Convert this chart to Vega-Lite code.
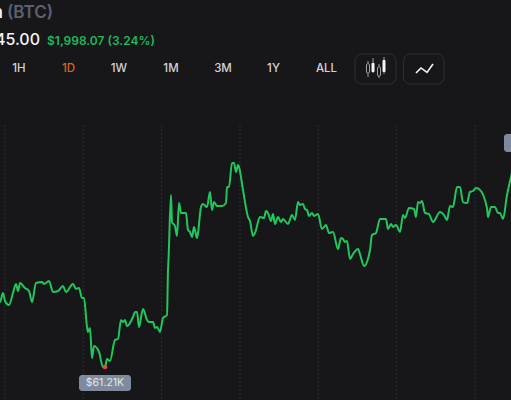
{"$schema":"https://vega.github.io/schema/vega-lite/v6.json","width":511,"height":400,"padding":0,"autosize":{"type":"none"},"background":"#17171a","config":{"view":{"stroke":null},"font":"Inter"},
"datasets":{
"price":[{"t":-2,"p":62022},{"t":0,"p":62022},{"t":3,"p":62135},{"t":5,"p":62035},{"t":9,"p":61985},{"t":13,"p":62135},{"t":16,"p":62248},{"t":18,"p":62160},{"t":20,"p":62260},{"t":25,"p":62198},{"t":29,"p":62160},{"t":32,"p":62022},{"t":36,"p":62260},{"t":42,"p":62272},{"t":44,"p":62248},{"t":49,"p":62285},{"t":53,"p":62148},{"t":58,"p":62160},{"t":63,"p":62222},{"t":66,"p":62148},{"t":73,"p":62248},{"t":76,"p":62185},{"t":79,"p":62198},{"t":82,"p":62072},{"t":84,"p":62072},{"t":87,"p":61710},{"t":88,"p":61648},{"t":90,"p":61698},{"t":92,"p":61322},{"t":94,"p":61472},{"t":99,"p":61398},{"t":103,"p":61210},{"t":105,"p":61210},{"t":107,"p":61310},{"t":110,"p":61285},{"t":115,"p":61548},{"t":118,"p":61560},{"t":121,"p":61798},{"t":123,"p":61772},{"t":125,"p":61798},{"t":127,"p":61722},{"t":133,"p":61835},{"t":135,"p":61898},{"t":137,"p":61898},{"t":139,"p":61710},{"t":143,"p":61935},{"t":147,"p":61798},{"t":149,"p":61772},{"t":153,"p":61772},{"t":155,"p":61698},{"t":157,"p":61710},{"t":160,"p":61648},{"t":163,"p":61822},{"t":167,"p":61860},{"t":168,"p":62422},{"t":168.5,"p":62548},{"t":171,"p":63360},{"t":172,"p":63022},{"t":175,"p":62972},{"t":177,"p":62848},{"t":179,"p":63260},{"t":181,"p":63135},{"t":186,"p":63135},{"t":188,"p":62922},{"t":190,"p":62898},{"t":192,"p":62835},{"t":194,"p":62960},{"t":197,"p":62822},{"t":198,"p":62885},{"t":201,"p":63210},{"t":203,"p":63248},{"t":207,"p":63210},{"t":210,"p":63398},{"t":212,"p":63172},{"t":214,"p":63272},{"t":217,"p":63222},{"t":222,"p":63222},{"t":226,"p":63260},{"t":227,"p":63460},{"t":229,"p":63460},{"t":232,"p":63760},{"t":234,"p":63760},{"t":236,"p":63648},{"t":238,"p":63735},{"t":239,"p":63710},{"t":243,"p":63422},{"t":248,"p":63085},{"t":250,"p":63035},{"t":253,"p":62848},{"t":255,"p":62885},{"t":260,"p":63085},{"t":264,"p":63072},{"t":266,"p":63160},{"t":268,"p":63135},{"t":271,"p":63035},{"t":273,"p":63122},{"t":275,"p":62998},{"t":278,"p":63085},{"t":281,"p":63022},{"t":283,"p":63060},{"t":288,"p":62998},{"t":292,"p":63110},{"t":295,"p":63048},{"t":298,"p":63272},{"t":300,"p":63235},{"t":303,"p":63248},{"t":305,"p":63185},{"t":307,"p":63172},{"t":309,"p":63098},{"t":312,"p":63135},{"t":314,"p":63098},{"t":318,"p":63122},{"t":322,"p":62935},{"t":326,"p":62985},{"t":329,"p":62885},{"t":333,"p":62898},{"t":338,"p":62685},{"t":341,"p":62822},{"t":343,"p":62810},{"t":345,"p":62772},{"t":347,"p":62785},{"t":350,"p":62560},{"t":353,"p":62622},{"t":358,"p":62685},{"t":360,"p":62622},{"t":364,"p":62472},{"t":370,"p":62672},{"t":372,"p":62860},{"t":376,"p":62885},{"t":380,"p":63060},{"t":386,"p":63060},{"t":388,"p":62935},{"t":391,"p":62998},{"t":393,"p":62960},{"t":396,"p":62985},{"t":400,"p":62898},{"t":403,"p":63110},{"t":405,"p":63072},{"t":409,"p":63198},{"t":414,"p":63185},{"t":416,"p":63085},{"t":418,"p":63272},{"t":420,"p":63260},{"t":422,"p":63285},{"t":425,"p":63135},{"t":429,"p":63122},{"t":433,"p":63022},{"t":440,"p":63148},{"t":444,"p":63110},{"t":447,"p":63048},{"t":450,"p":63222},{"t":453,"p":63210},{"t":457,"p":63460},{"t":460,"p":63460},{"t":463,"p":63272},{"t":467,"p":63260},{"t":470,"p":63398},{"t":473,"p":63410},{"t":476,"p":63448},{"t":479,"p":63435},{"t":487,"p":63198},{"t":488,"p":63085},{"t":491,"p":63210},{"t":495,"p":63210},{"t":498,"p":63135},{"t":500,"p":63135},{"t":503,"p":63060},{"t":507,"p":63360},{"t":511,"p":63585},{"t":513,"p":63700}],
"grid":[{"t":5,"top":64235,"bot":60797.5},{"t":83.3,"top":64235,"bot":60797.5},{"t":161.6,"top":64235,"bot":60797.5},{"t":240,"top":64235,"bot":60797.5},{"t":318.3,"top":64235,"bot":60797.5},{"t":396.6,"top":64235,"bot":60797.5},{"t":475,"top":64235,"bot":60797.5}],
"ranges":[{"label":"1H","t":19,"p":64935,"c":"#d4d4d8"},{"label":"1D","t":68.5,"p":64935,"c":"#d9661f"},{"label":"1W","t":119,"p":64935,"c":"#d4d4d8"},{"label":"1M","t":171,"p":64935,"c":"#d4d4d8"},{"label":"3M","t":223,"p":64935,"c":"#d4d4d8"},{"label":"1Y","t":273.5,"p":64935,"c":"#d4d4d8"},{"label":"ALL","t":326.5,"p":64935,"c":"#d4d4d8"}],
"candles":[{"t":366.5,"t2":369.5,"a":64885,"b":65000},{"t":377.5,"t2":380.5,"a":64847,"b":64960}],
"candlesF":[{"t":371.5,"t2":374.5,"a":64897,"b":65010},{"t":382.5,"t2":385.5,"a":64897,"b":65047}],
"wicks":[{"t":368,"a":64835,"b":65035},{"t":373,"a":64885,"b":65072},{"t":379,"a":64822,"b":64997},{"t":384,"a":64872,"b":65085}],
"buttons":[{"t":355,"t2":396,"a":64748,"b":65122},{"t":403.5,"t2":444,"a":64748,"b":65122}],
"spark":[{"t":416,"p":64885},{"t":421,"p":64948},{"t":427,"p":64892},{"t":433,"p":64998}],
"tags":[{"t":79,"t2":131,"a":60910,"b":61110},{"t":504,"t2":525,"a":63897,"b":64122}]
},
"encoding":{},
"layer":[
{"data":{"name":"grid"},"mark":{"type":"rule","stroke":"#2c2e36","strokeWidth":1,"strokeDash":[2,2]},"encoding":{"x":{"field":"t","type":"quantitative","scale":{"domain":[0,511],"nice":false,"zero":false},"axis":null},"y":{"field":"top","type":"quantitative","scale":{"domain":[60797.5,65797.5],"nice":false,"zero":false},"axis":null},"y2":{"field":"bot"}}},
{"data":{"name":"price"},"mark":{"type":"line","stroke":"#20c75c","strokeWidth":2,"interpolate":"monotone","clip":true},"encoding":{"x":{"field":"t","type":"quantitative","scale":{"domain":[0,511],"nice":false,"zero":false},"axis":null},"y":{"field":"p","type":"quantitative","scale":{"domain":[60797.5,65797.5],"nice":false,"zero":false},"axis":null}}},
{"data":{"values":[{"t":105,"p":61210}]},"mark":{"type":"point","filled":true,"fill":"#ef4444","opacity":1,"size":22},"encoding":{"x":{"field":"t","type":"quantitative","scale":{"domain":[0,511],"nice":false,"zero":false},"axis":null},"y":{"field":"p","type":"quantitative","scale":{"domain":[60797.5,65797.5],"nice":false,"zero":false},"axis":null}}},
{"data":{"name":"tags"},"mark":{"type":"rect","fill":"#7f8a9c","cornerRadius":3,"clip":true},"encoding":{"x":{"field":"t","type":"quantitative","scale":{"domain":[0,511],"nice":false,"zero":false},"axis":null},"x2":{"field":"t2"},"y":{"field":"a","type":"quantitative","scale":{"domain":[60797.5,65797.5],"nice":false,"zero":false},"axis":null},"y2":{"field":"b"}}},
{"data":{"values":[{"t":105,"p":61010,"label":"$61.21K"}]},"mark":{"type":"text","fontSize":10.5,"fill":"#e5e7eb","align":"center","baseline":"middle"},"encoding":{"x":{"field":"t","type":"quantitative","scale":{"domain":[0,511],"nice":false,"zero":false},"axis":null},"y":{"field":"p","type":"quantitative","scale":{"domain":[60797.5,65797.5],"nice":false,"zero":false},"axis":null},"text":{"field":"label"}}},
{"data":{"values":[{"t":3,"p":65635,"label":"Bitcoin"}]},"mark":{"type":"text","fontSize":17,"fontWeight":600,"fill":"#f4f4f5","align":"right","baseline":"middle"},"encoding":{"x":{"field":"t","type":"quantitative","scale":{"domain":[0,511],"nice":false,"zero":false},"axis":null},"y":{"field":"p","type":"quantitative","scale":{"domain":[60797.5,65797.5],"nice":false,"zero":false},"axis":null},"text":{"field":"label"}}},
{"data":{"values":[{"t":7,"p":65635,"label":"(BTC)"}]},"mark":{"type":"text","fontSize":17,"fontWeight":600,"fill":"#5b6170","align":"left","baseline":"middle"},"encoding":{"x":{"field":"t","type":"quantitative","scale":{"domain":[0,511],"nice":false,"zero":false},"axis":null},"y":{"field":"p","type":"quantitative","scale":{"domain":[60797.5,65797.5],"nice":false,"zero":false},"axis":null},"text":{"field":"label"}}},
{"data":{"values":[{"t":40,"p":65297,"label":"$63,645.00"}]},"mark":{"type":"text","fontSize":16,"fontWeight":500,"fill":"#f4f4f5","align":"right","baseline":"middle"},"encoding":{"x":{"field":"t","type":"quantitative","scale":{"domain":[0,511],"nice":false,"zero":false},"axis":null},"y":{"field":"p","type":"quantitative","scale":{"domain":[60797.5,65797.5],"nice":false,"zero":false},"axis":null},"text":{"field":"label"}}},
{"data":{"values":[{"t":47,"p":65285,"label":"$1,998.07 (3.24%)"}]},"mark":{"type":"text","fontSize":12,"fontWeight":600,"fill":"#1fb85a","align":"left","baseline":"middle"},"encoding":{"x":{"field":"t","type":"quantitative","scale":{"domain":[0,511],"nice":false,"zero":false},"axis":null},"y":{"field":"p","type":"quantitative","scale":{"domain":[60797.5,65797.5],"nice":false,"zero":false},"axis":null},"text":{"field":"label"}}},
{"data":{"name":"ranges"},"mark":{"type":"text","fontSize":11.5,"fontWeight":500,"align":"center","baseline":"middle"},"encoding":{"x":{"field":"t","type":"quantitative","scale":{"domain":[0,511],"nice":false,"zero":false},"axis":null},"y":{"field":"p","type":"quantitative","scale":{"domain":[60797.5,65797.5],"nice":false,"zero":false},"axis":null},"text":{"field":"label"},"color":{"field":"c","type":"nominal","scale":null}}},
{"data":{"name":"buttons"},"mark":{"type":"rect","fill":"#17171a","stroke":"#2e3038","strokeWidth":1,"cornerRadius":7},"encoding":{"x":{"field":"t","type":"quantitative","scale":{"domain":[0,511],"nice":false,"zero":false},"axis":null},"x2":{"field":"t2"},"y":{"field":"a","type":"quantitative","scale":{"domain":[60797.5,65797.5],"nice":false,"zero":false},"axis":null},"y2":{"field":"b"}}},
{"data":{"name":"wicks"},"mark":{"type":"rule","stroke":"#a1a1aa","strokeWidth":1},"encoding":{"x":{"field":"t","type":"quantitative","scale":{"domain":[0,511],"nice":false,"zero":false},"axis":null},"y":{"field":"a","type":"quantitative","scale":{"domain":[60797.5,65797.5],"nice":false,"zero":false},"axis":null},"y2":{"field":"b"}}},
{"data":{"name":"candles"},"mark":{"type":"rect","fill":"#17171a","stroke":"#a1a1aa","strokeWidth":1,"cornerRadius":1},"encoding":{"x":{"field":"t","type":"quantitative","scale":{"domain":[0,511],"nice":false,"zero":false},"axis":null},"x2":{"field":"t2"},"y":{"field":"a","type":"quantitative","scale":{"domain":[60797.5,65797.5],"nice":false,"zero":false},"axis":null},"y2":{"field":"b"}}},
{"data":{"name":"candlesF"},"mark":{"type":"rect","fill":"#f4f4f5","cornerRadius":1},"encoding":{"x":{"field":"t","type":"quantitative","scale":{"domain":[0,511],"nice":false,"zero":false},"axis":null},"x2":{"field":"t2"},"y":{"field":"a","type":"quantitative","scale":{"domain":[60797.5,65797.5],"nice":false,"zero":false},"axis":null},"y2":{"field":"b"}}},
{"data":{"name":"spark"},"mark":{"type":"line","stroke":"#f4f4f5","strokeWidth":1.6},"encoding":{"x":{"field":"t","type":"quantitative","scale":{"domain":[0,511],"nice":false,"zero":false},"axis":null},"y":{"field":"p","type":"quantitative","scale":{"domain":[60797.5,65797.5],"nice":false,"zero":false},"axis":null}}}
]}
